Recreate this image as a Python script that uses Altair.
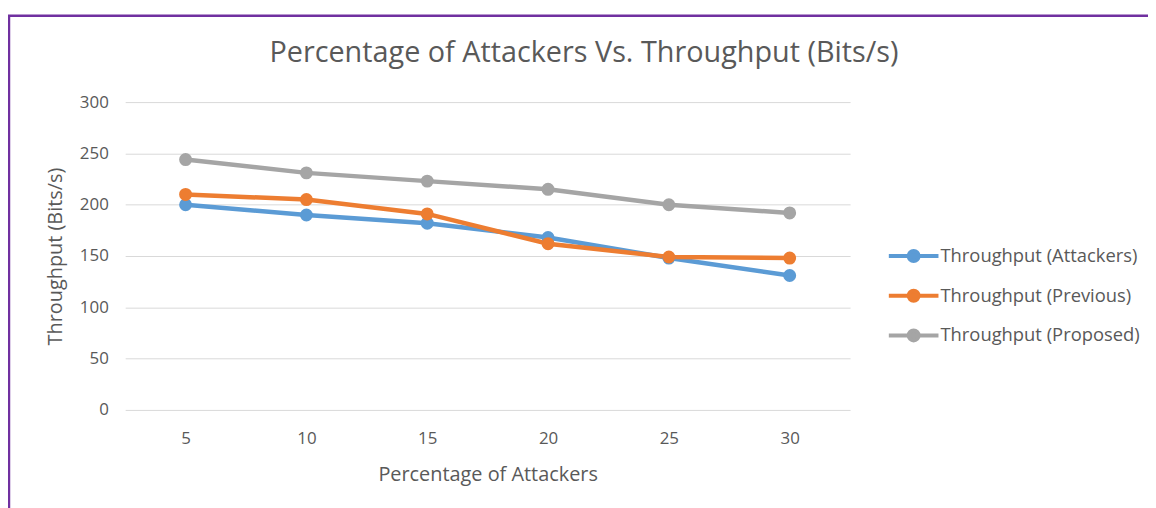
import altair as alt
import pandas as pd

x_values = [5, 10, 15, 20, 25, 30]
attackers = [200, 190, 182, 168, 148, 131]
previous = [210, 205, 191, 162, 149, 148]
proposed = [244, 231, 223, 215, 200, 192]
series_names = ["Throughput (Attackers)", "Throughput (Previous)", "Throughput (Proposed)"]
series_colors = ["#5B9BD5", "#ED7D31", "#A5A5A5"]

rows = []
for name, vals in zip(series_names, [attackers, previous, proposed]):
    for xv, yv in zip(x_values, vals):
        rows.append({"x": str(xv), "y": yv, "series": name})
df = pd.DataFrame(rows)

FONT = "Open Sans"
TXT = "#595959"

sym = "M-1,0H1M0.2,0A0.2,0.2 0 1 1 -0.2,0A0.2,0.2 0 1 1 0.2,0Z"

lines = alt.Chart(df).mark_line(
    strokeWidth=4.5,
    point=alt.OverlayMarkDef(filled=True, size=170, strokeWidth=0),
).encode(
    x=alt.X("x:O", sort=[str(v) for v in x_values],
            axis=alt.Axis(title="Percentage of Attackers", labelAngle=0, ticks=False,
                          domain=False, labelPadding=21, titlePadding=18,
                          labelFontSize=17, titleFontSize=20)),
    y=alt.Y("y:Q", scale=alt.Scale(domain=[0, 300]),
            axis=alt.Axis(title="Throughput (Bits/s)", values=[0, 50, 100, 150, 200, 250, 300],
                          ticks=False, domain=False, labelPadding=17, titlePadding=14,
                          labelFontSize=17, titleFontSize=20, grid=True)),
    color=alt.Color("series:N", scale=alt.Scale(domain=series_names, range=series_colors),
                    legend=alt.Legend(title=None, orient="none", legendX=767, legendY=128,
                                      symbolType=sym, symbolSize=2500, symbolStrokeWidth=4,
                                      labelFontSize=18.5, labelOffset=0, rowPadding=-1,
                                      labelLimit=400,
                                      labelColor=TXT, labelFont=FONT)),
)

border = alt.Chart(pd.DataFrame({"a": [0]})).mark_rect(
    fill=None, stroke="#7030A0", strokeWidth=2.5
).encode(x=alt.value(-117), x2=alt.value(1060), y=alt.value(-87), y2=alt.value(430))

chart = alt.layer(lines, border).properties(
    width=730, height=310,
    title=alt.TitleParams("Percentage of Attackers Vs. Throughput (Bits/s)", fontSize=29,
                          font=FONT, color=TXT, fontWeight="normal", offset=0, dy=54,
                          frame="group", dx=97),
    autosize=alt.AutoSizeParams(type="none"),
    padding={"left": 118, "top": 93, "right": 300, "bottom": 97},
).configure_view(stroke=None).configure_axis(
    labelColor=TXT, titleColor=TXT, labelFont=FONT, titleFont=FONT,
    gridColor="#D9D9D9", titleFontWeight="normal"
)

chart.save("out.html", embed_options={"renderer": "svg", "actions": False})
